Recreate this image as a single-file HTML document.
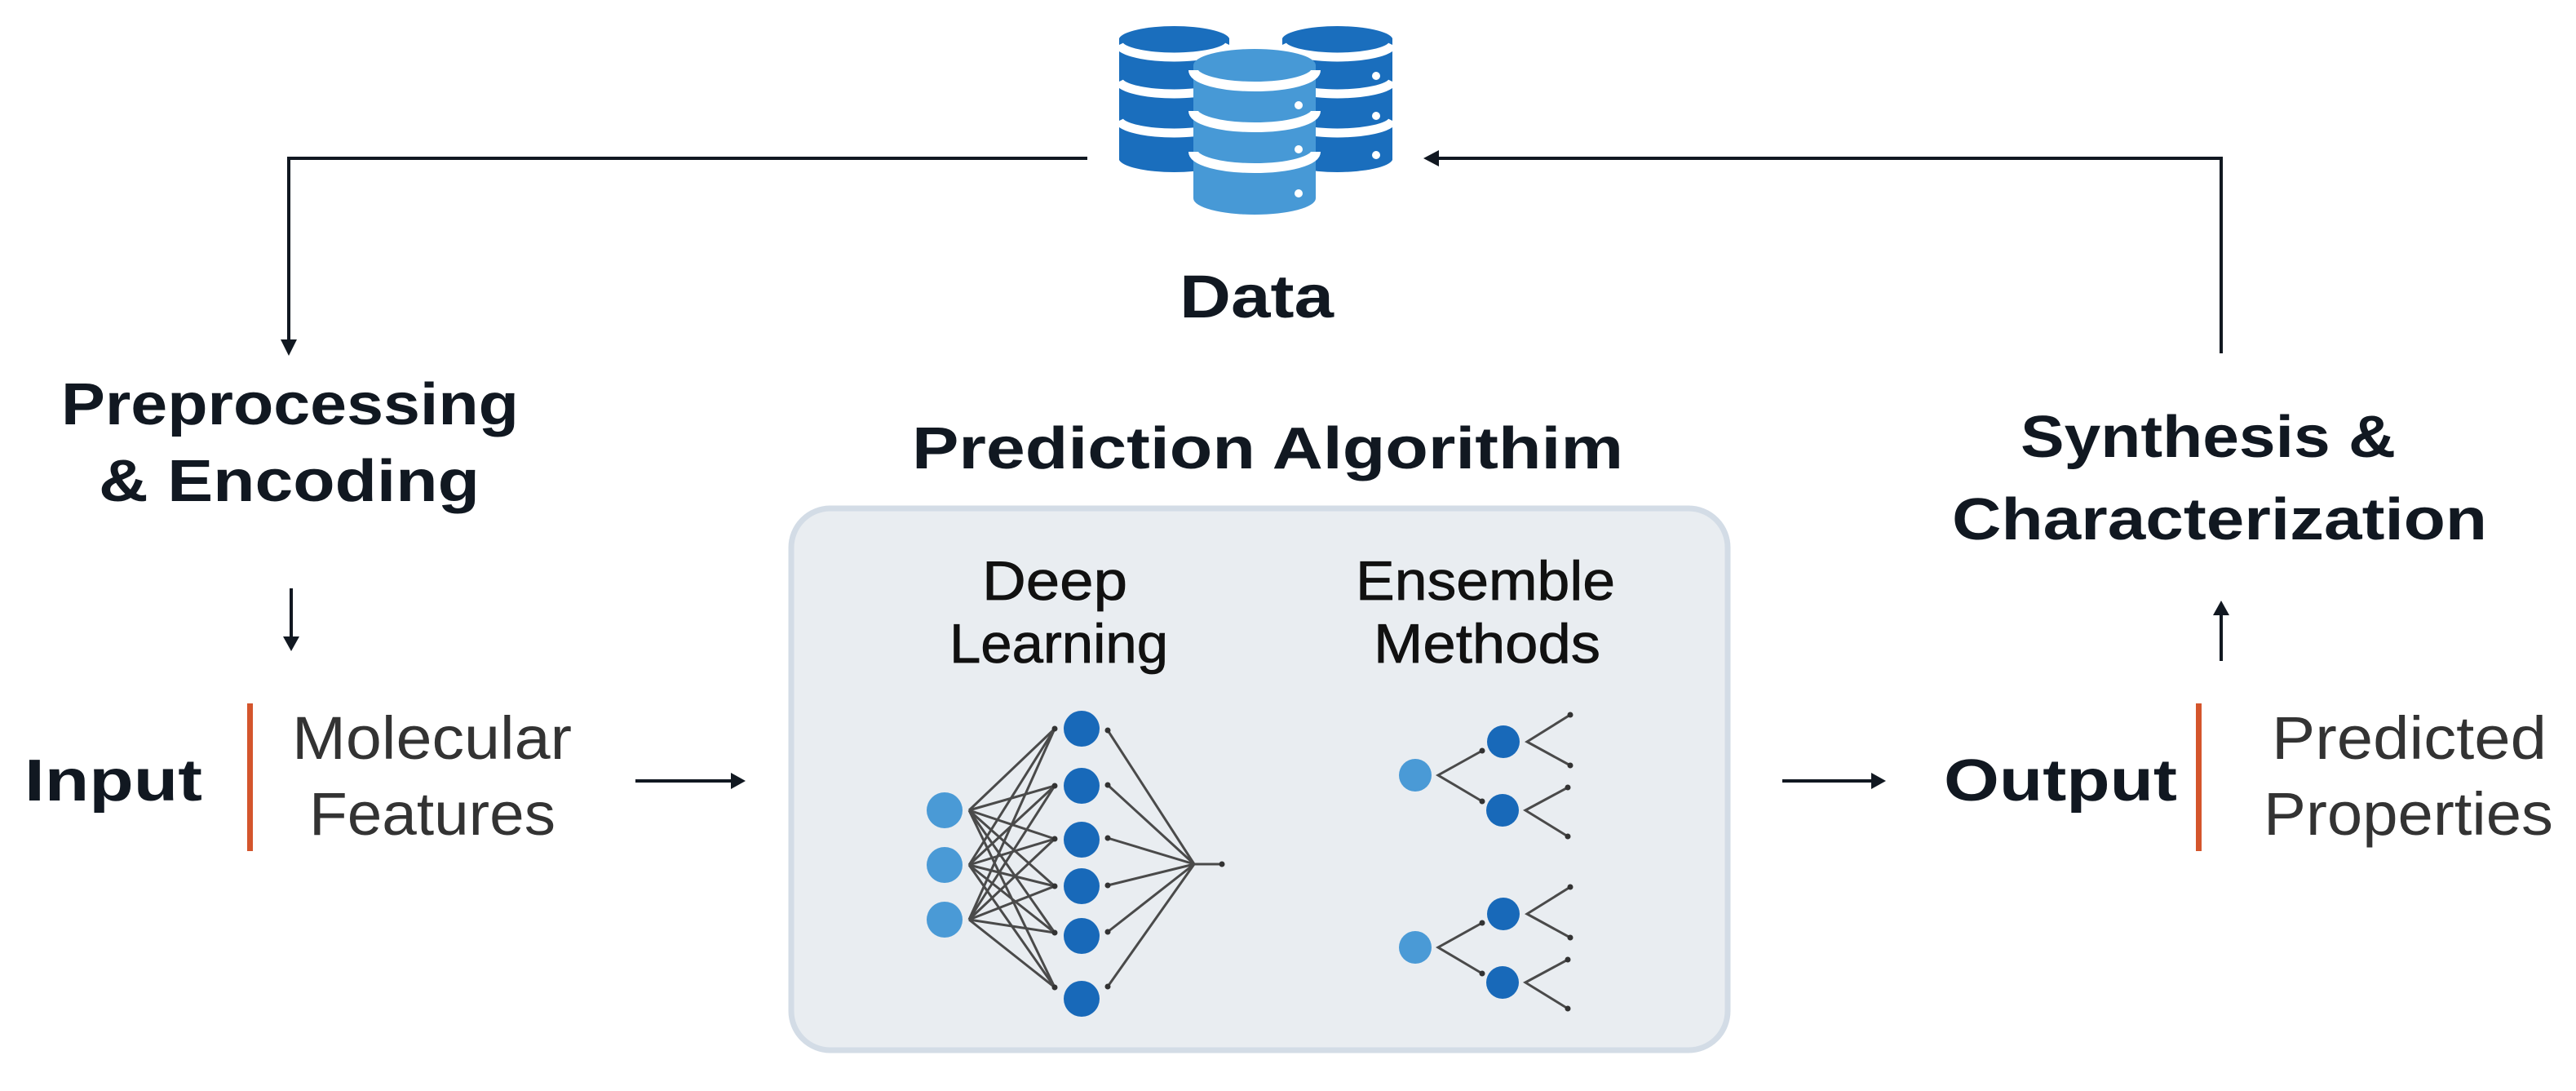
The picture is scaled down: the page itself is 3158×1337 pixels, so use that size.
<!DOCTYPE html>
<html><head><meta charset="utf-8"><style>
html,body{margin:0;padding:0;background:#fff;}
svg{display:block;}
.h{font-family:"Liberation Sans",sans-serif;font-weight:bold;fill:#111821;}
.l{font-family:"Liberation Sans",sans-serif;fill:#333;}
.m{font-family:"Liberation Sans",sans-serif;fill:#111;stroke:#111;stroke-width:0.8;}
</style></head><body>
<svg width="3158" height="1337" viewBox="0 0 3158 1337" xmlns="http://www.w3.org/2000/svg">
<g stroke="#111821" stroke-width="4" fill="none">
<polyline points="1333,194 354,194 354,418"/>
<polyline points="1760,194 2723,194 2723,433"/>
<line x1="357" y1="721" x2="357" y2="782"/>
<line x1="2723" y1="810" x2="2723" y2="752"/>
<line x1="779" y1="957" x2="898" y2="957"/>
<line x1="2185" y1="957" x2="2296" y2="957"/>
</g>
<g fill="#111821">
<polygon points="344,416 364,416 354,436"/>
<polygon points="347,780 367,780 357,798"/>
<polygon points="2713,754 2733,754 2723,736"/>
<polygon points="896,947 896,967 914,957"/>
<polygon points="2294,947 2294,967 2312,957"/>
<polygon points="1764,184 1764,204 1745,194"/>
</g>

<g>
 <path d="M1372,47 A68,17 0 0 1 1507,47 L1507,196 A68,17 0 0 1 1372,196 Z" fill="#1a6ebd"/>
 <path d="M1572,47 A68,17 0 0 1 1707,47 L1707,196 A68,17 0 0 1 1572,196 Z" fill="#1a6ebd"/>
 <g stroke="#fff" stroke-width="11" fill="none">
  <path d="M1372,55 A68,17 0 0 0 1507,55"/>
  <path d="M1372,100 A68,17 0 0 0 1507,100"/>
  <path d="M1372,148 A68,17 0 0 0 1507,148"/>
  <path d="M1572,55 A68,17 0 0 0 1707,55"/>
  <path d="M1572,100 A68,17 0 0 0 1707,100"/>
  <path d="M1572,148 A68,17 0 0 0 1707,148"/>
 </g>
 <g fill="#fff"><circle cx="1687" cy="93" r="5"/><circle cx="1687" cy="142" r="5"/><circle cx="1687" cy="190" r="5"/></g>
 <path d="M1463,80 A75,20 0 0 1 1613,80 L1613,243 A75,20 0 0 1 1463,243 Z" fill="#4799d6"/>
 <g stroke="#fff" stroke-width="12" fill="none">
  <path d="M1463,86 A75,20 0 0 0 1613,86"/>
  <path d="M1463,136 A75,20 0 0 0 1613,136"/>
  <path d="M1463,186 A75,20 0 0 0 1613,186"/>
 </g>
 <g fill="#fff"><circle cx="1592" cy="129" r="5"/><circle cx="1592" cy="183" r="5"/><circle cx="1592" cy="237" r="5"/></g>
</g>

<text class="h" x="1446" y="389" font-size="74" textLength="189" lengthAdjust="spacingAndGlyphs">Data</text>

<text class="h" x="75" y="520" font-size="72" textLength="561" lengthAdjust="spacingAndGlyphs">Preprocessing</text>
<text class="h" x="121" y="614" font-size="72" textLength="467" lengthAdjust="spacingAndGlyphs">&amp; Encoding</text>
<text class="h" x="30" y="981" font-size="72" textLength="218" lengthAdjust="spacingAndGlyphs">Input</text>
<rect x="303" y="862" width="7" height="181" fill="#d4552c"/>
<text class="l" x="358" y="930" font-size="74" textLength="343" lengthAdjust="spacingAndGlyphs">Molecular</text>
<text class="l" x="379" y="1023" font-size="74" textLength="302" lengthAdjust="spacingAndGlyphs">Features</text>

<text class="h" x="1118" y="574" font-size="72" textLength="872" lengthAdjust="spacingAndGlyphs">Prediction Algorithim</text>
<rect x="970" y="623" width="1148" height="664" rx="48" ry="48" fill="#e9edf1" stroke="#d3dce6" stroke-width="7"/>
<text class="m" x="1204" y="735" font-size="68" textLength="178" lengthAdjust="spacingAndGlyphs">Deep</text>
<text class="m" x="1164" y="812" font-size="68" textLength="268" lengthAdjust="spacingAndGlyphs">Learning</text>
<text class="m" x="1662" y="735" font-size="68" textLength="318" lengthAdjust="spacingAndGlyphs">Ensemble</text>
<text class="m" x="1684" y="812" font-size="68" textLength="278" lengthAdjust="spacingAndGlyphs">Methods</text>

<g stroke="#4a4a4a" stroke-width="3">
 <line x1="1188" y1="993" x2="1293" y2="893"/><line x1="1188" y1="993" x2="1293" y2="963"/><line x1="1188" y1="993" x2="1293" y2="1028"/><line x1="1188" y1="993" x2="1293" y2="1086"/><line x1="1188" y1="993" x2="1293" y2="1143"/><line x1="1188" y1="993" x2="1293" y2="1210"/>
 <line x1="1188" y1="1060" x2="1293" y2="893"/><line x1="1188" y1="1060" x2="1293" y2="963"/><line x1="1188" y1="1060" x2="1293" y2="1028"/><line x1="1188" y1="1060" x2="1293" y2="1086"/><line x1="1188" y1="1060" x2="1293" y2="1143"/><line x1="1188" y1="1060" x2="1293" y2="1210"/>
 <line x1="1188" y1="1127" x2="1293" y2="893"/><line x1="1188" y1="1127" x2="1293" y2="963"/><line x1="1188" y1="1127" x2="1293" y2="1028"/><line x1="1188" y1="1127" x2="1293" y2="1086"/><line x1="1188" y1="1127" x2="1293" y2="1143"/><line x1="1188" y1="1127" x2="1293" y2="1210"/>
 <line x1="1358" y1="895" x2="1464" y2="1059"/><line x1="1358" y1="962" x2="1464" y2="1059"/><line x1="1358" y1="1027" x2="1464" y2="1059"/><line x1="1358" y1="1085" x2="1464" y2="1059"/><line x1="1358" y1="1142" x2="1464" y2="1059"/><line x1="1358" y1="1209" x2="1464" y2="1059"/>
 <line x1="1464" y1="1059" x2="1498" y2="1059"/>
</g>
<g fill="#333">
 <circle cx="1293" cy="893" r="3.5"/><circle cx="1293" cy="963" r="3.5"/><circle cx="1293" cy="1028" r="3.5"/><circle cx="1293" cy="1086" r="3.5"/><circle cx="1293" cy="1143" r="3.5"/><circle cx="1293" cy="1210" r="3.5"/>
 <circle cx="1358" cy="895" r="3.5"/><circle cx="1358" cy="962" r="3.5"/><circle cx="1358" cy="1027" r="3.5"/><circle cx="1358" cy="1085" r="3.5"/><circle cx="1358" cy="1142" r="3.5"/><circle cx="1358" cy="1209" r="3.5"/>
 <circle cx="1498" cy="1059" r="3.5"/>
</g>
<g fill="#4a9ad6">
 <circle cx="1158" cy="993" r="22"/><circle cx="1158" cy="1060" r="22"/><circle cx="1158" cy="1127" r="22"/>
</g>
<g fill="#1869b9">
 <circle cx="1326" cy="893" r="22"/><circle cx="1326" cy="963" r="22"/><circle cx="1326" cy="1029" r="22"/><circle cx="1326" cy="1086" r="22"/><circle cx="1326" cy="1147" r="22"/><circle cx="1326" cy="1224" r="22"/>
</g>

<g>
 <g stroke="#4a4a4a" stroke-width="3" fill="none">
  <polyline points="1817,920 1763,950 1817,982"/>
  <polyline points="1925,876 1872,909 1925,938"/>
  <polyline points="1922,965 1870,993 1922,1025"/>
 </g>
 <g fill="#333"><circle cx="1817" cy="920" r="3.5"/><circle cx="1817" cy="982" r="3.5"/><circle cx="1925" cy="876" r="3.5"/><circle cx="1925" cy="938" r="3.5"/><circle cx="1922" cy="965" r="3.5"/><circle cx="1922" cy="1025" r="3.5"/></g>
 <circle cx="1735" cy="950" r="20" fill="#4a9ad6"/>
 <circle cx="1843" cy="909" r="20" fill="#1869b9"/>
 <circle cx="1842" cy="993" r="20" fill="#1869b9"/>
</g>
<g transform="translate(0,211)">
 <g stroke="#4a4a4a" stroke-width="3" fill="none">
  <polyline points="1817,920 1763,950 1817,982"/>
  <polyline points="1925,876 1872,909 1925,938"/>
  <polyline points="1922,965 1870,993 1922,1025"/>
 </g>
 <g fill="#333"><circle cx="1817" cy="920" r="3.5"/><circle cx="1817" cy="982" r="3.5"/><circle cx="1925" cy="876" r="3.5"/><circle cx="1925" cy="938" r="3.5"/><circle cx="1922" cy="965" r="3.5"/><circle cx="1922" cy="1025" r="3.5"/></g>
 <circle cx="1735" cy="950" r="20" fill="#4a9ad6"/>
 <circle cx="1843" cy="909" r="20" fill="#1869b9"/>
 <circle cx="1842" cy="993" r="20" fill="#1869b9"/>
</g>

<text class="h" x="2477" y="560" font-size="72" textLength="460" lengthAdjust="spacingAndGlyphs">Synthesis &amp;</text>
<text class="h" x="2393" y="661" font-size="72" textLength="656" lengthAdjust="spacingAndGlyphs">Characterization</text>
<text class="h" x="2383" y="981" font-size="72" textLength="286" lengthAdjust="spacingAndGlyphs">Output</text>
<rect x="2692" y="862" width="7" height="181" fill="#d4552c"/>
<text class="l" x="2785" y="930" font-size="74" textLength="337" lengthAdjust="spacingAndGlyphs">Predicted</text>
<text class="l" x="2775" y="1023" font-size="74" textLength="355" lengthAdjust="spacingAndGlyphs">Properties</text>
</svg>
</body></html>
